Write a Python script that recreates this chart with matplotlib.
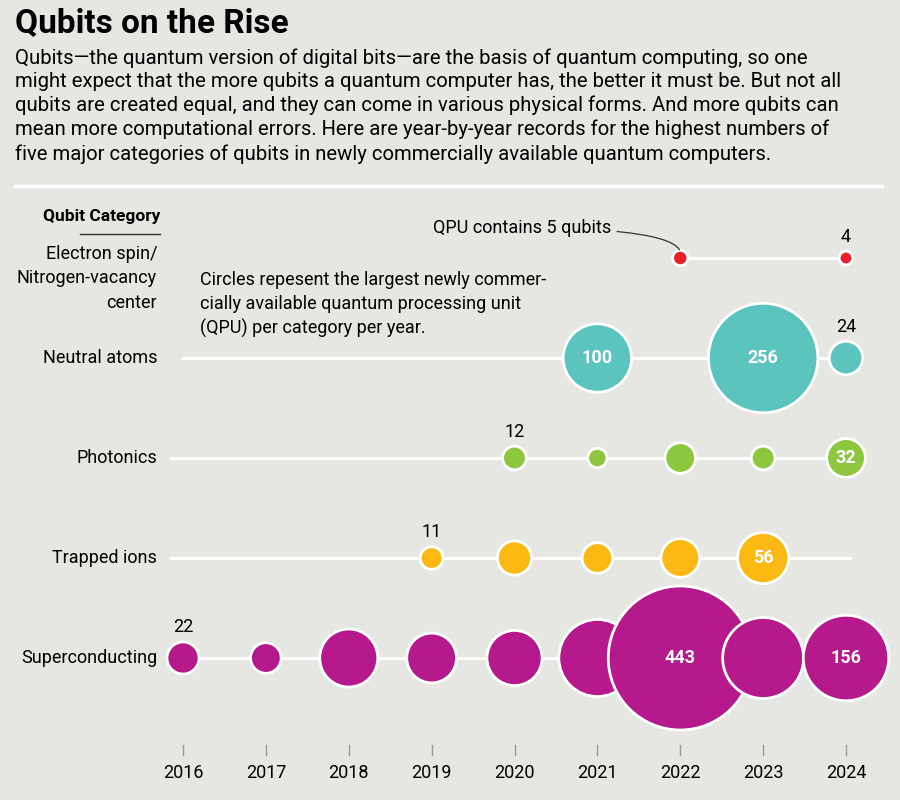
import matplotlib
matplotlib.use("Agg")
import matplotlib.pyplot as plt
import numpy as np

categories = ["Electron spin/\nNitrogen-vacancy\ncenter", "Neutral atoms", "Photonics", "Trapped ions", "Superconducting"]
years = [2016, 2017, 2018, 2019, 2020, 2021, 2022, 2023, 2024]
data = {
    "Electron spin/\nNitrogen-vacancy\ncenter": {2022: 5, 2024: 4},
    "Neutral atoms": {2021: 100, 2023: 256, 2024: 24},
    "Photonics": {2020: 12, 2021: 8, 2022: 20, 2023: 12, 2024: 32},
    "Trapped ions": {2019: 11, 2020: 25, 2021: 20, 2022: 32, 2023: 56},
    "Superconducting": {2016: 22, 2017: 20, 2018: 72, 2019: 53, 2020: 65, 2021: 127, 2022: 443, 2023: 140, 2024: 156},
}
inside_labels = {("Neutral atoms", 2021), ("Neutral atoms", 2023), ("Photonics", 2024),
                 ("Trapped ions", 2023), ("Superconducting", 2022), ("Superconducting", 2024)}
above_labels = {("Electron spin/\nNitrogen-vacancy\ncenter", 2024), ("Neutral atoms", 2024),
                ("Photonics", 2020), ("Trapped ions", 2019), ("Superconducting", 2016)}
line_start = {categories[0]: 2022, categories[1]: 2016, categories[2]: 2015.85, categories[3]: 2015.85, categories[4]: 2015.85}
colors = ["#e8202a", "#5cc4bf", "#8dc63f", "#fdb913", "#b5198c"]

bg = "#e6e6e3"
fig = plt.figure(figsize=(9, 8), dpi=100, facecolor=bg)
ax = fig.add_axes([0, 0, 1, 1], facecolor=bg)
pxyr = 82.875
ax.set_xlim(2016 - 183 / pxyr, 2016 + 717 / pxyr)
ax.set_ylim(5.42, -2.58)
ax.axis("off")
FONT = "Roboto"

maxv = 443.0
rmax_px = 72
for i, (cat, col) in enumerate(zip(categories, colors)):
    vals = data[cat]
    end = 2024.05 if i > 0 else 2024
    ax.plot([line_start[cat], end], [i, i], color="white", lw=2.2, zorder=1)
    xs = list(vals.keys()); vs = list(vals.values())
    r_px = rmax_px * np.sqrt(np.array(vs) / maxv)
    r_px = np.maximum(r_px, 6)
    s = (2 * r_px * 0.72) ** 2
    ax.scatter(xs, [i] * len(xs), s=s, color=col, edgecolor="white", linewidth=2, zorder=3)
    for x, v, r in zip(xs, vs, r_px):
        if (cat, x) in inside_labels:
            ax.text(x, i, str(v), ha="center", va="center", color="white", fontsize=13,
                    fontweight="bold", family=FONT, zorder=4)
        elif (cat, x) in above_labels:
            ax.annotate(str(v), (x, i), xytext=(0, r * 0.72 + 4), textcoords="offset points",
                        ha="center", va="bottom", fontsize=13, family=FONT)

for y in years:
    ax.plot([y, y], [4.87, 4.97], color="#999999", lw=1)
    ax.text(y, 5.15, str(y), ha="center", va="center", fontsize=13, family=FONT)

def fy(px):
    return 1 - px / 800

fig.text(15 / 900, fy(23), "Qubits on the Rise", fontsize=24, fontweight="bold", family=FONT, va="center")
body = ("Qubits\u2014the quantum version of digital bits\u2014are the basis of quantum computing, so one\n"
        "might expect that the more qubits a quantum computer has, the better it must be. But not all\n"
        "qubits are created equal, and they can come in various physical forms. And more qubits can\n"
        "mean more computational errors. Here are year-by-year records for the highest numbers of\n"
        "five major categories of qubits in newly commercially available quantum computers.")
fig.text(15 / 900, fy(48), body, fontsize=14.6, family=FONT, va="top", linespacing=1.3)
fig.add_artist(plt.Line2D([15 / 900, 882 / 900], [fy(186)] * 2, color="white", lw=2.5))
fig.text(160 / 900, fy(217), "Qubit Category", fontsize=12.5, fontweight="bold", family=FONT, ha="right", va="center")
fig.add_artist(plt.Line2D([80 / 900, 160 / 900], [fy(234)] * 2, color="#333333", lw=1))
for i, cat in enumerate(categories):
    if i == 0:
        ax.text(2016 - 26 / pxyr, -0.13, cat, ha="right", va="top", fontsize=13, family=FONT, linespacing=1.45)
    else:
        ax.text(2016 - 26 / pxyr, i, cat, ha="right", va="center", fontsize=13, family=FONT)

fig.text(200 / 900, fy(271), "Circles repesent the largest newly commer-\ncially available quantum processing unit\n(QPU) per category per year.",
         fontsize=13, family=FONT, va="top", linespacing=1.4)
ax.annotate("QPU contains 5 qubits", xy=(2022, 0), xytext=(2021.17, -0.3),
            ha="right", va="center", fontsize=13, family=FONT,
            arrowprops=dict(arrowstyle="-", color="#333333", lw=0.9,
                            connectionstyle="angle3,angleA=0,angleB=70", shrinkB=6))

fig.savefig("out.png", dpi=100, facecolor=bg)
